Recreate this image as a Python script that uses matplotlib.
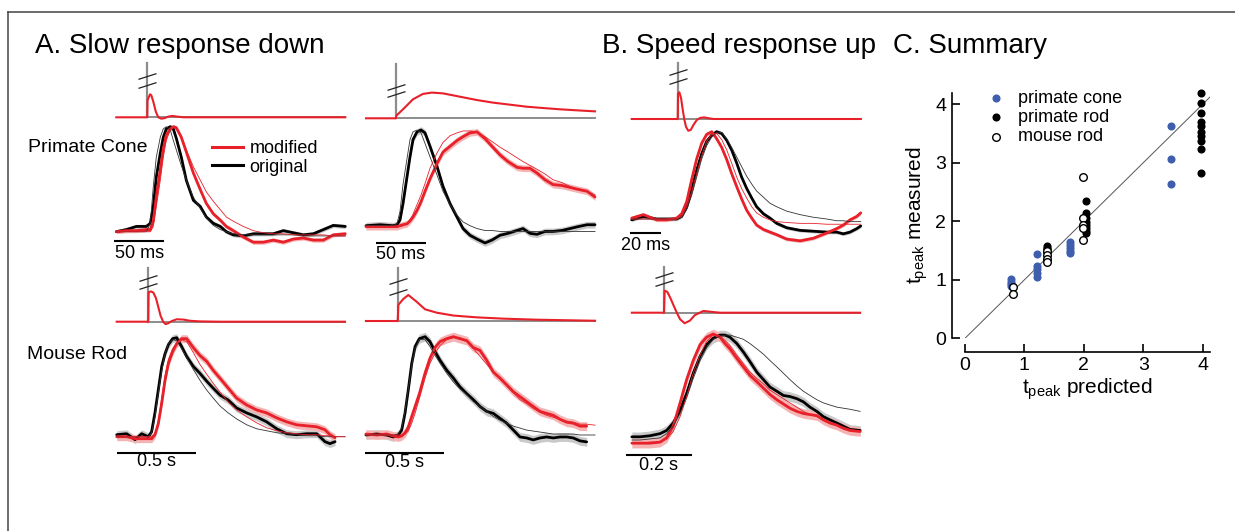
import matplotlib
matplotlib.use("Agg")
import matplotlib.pyplot as plt
from matplotlib.path import Path
from matplotlib.lines import Line2D

plt.rcParams['font.family'] = ['Liberation Sans', 'DejaVu Sans']

# ---------------- data: panel A, primate cone, column 1 (ms, normalised) -------------
coneA_t = [-31, -21, -11, -1, 3, 6, 9, 13, 16, 19, 23, 26, 29, 34, 39, 46, 53, 59, 66, 73,
           79, 86, 96, 106, 116, 126, 136, 146, 156, 166, 176, 186, 198]
coneA_orig_data = [0, 0.02, 0.05, 0.05, 0.08, 0.24, 0.52, 0.75, 0.90, 0.98, 1.0, 0.98, 0.89, 0.71,
                   0.49, 0.30, 0.24, 0.14, 0.08, 0.05, 0.0, -0.03, -0.04, -0.02, -0.02, -0.02, 0.01,
                   -0.01, -0.03, -0.02, 0.02, 0.06, 0.05]
coneA_mod_data = [0, 0.01, 0.01, 0.02, 0.02, 0.10, 0.33, 0.59, 0.79, 0.92, 0.98, 1.0, 0.99, 0.90,
                  0.76, 0.56, 0.40, 0.27, 0.17, 0.11, 0.05, 0.01, -0.05, -0.10, -0.10, -0.08, -0.10,
                  -0.07, -0.06, -0.08, -0.08, -0.03, -0.02]
coneA_orig_model = [0, 0, 0, 0, 0.08, 0.43, 0.71, 0.90, 0.98, 1.0, 0.97, 0.87, 0.78, 0.63, 0.49,
                    0.33, 0.22, 0.13, 0.06, 0.02, 0, -0.02, -0.03, -0.03, -0.03, -0.03, -0.03, -0.03,
                    -0.04, -0.04, -0.04, -0.04, -0.04]
coneA_mod_model = [0, 0, 0, 0, 0, 0.05, 0.24, 0.49, 0.71, 0.87, 0.97, 1.0, 0.99, 0.90, 0.78, 0.62,
                   0.49, 0.38, 0.29, 0.21, 0.14, 0.10, 0.05, 0.01, -0.01, -0.02, -0.02, -0.03, -0.03,
                   -0.03, -0.03, -0.04, -0.04]
coneA_filt_t = [-31, 0, 0.3, 2.7, 4.0, 6.0, 8.5, 11, 14, 17, 21, 25, 30, 36, 198]
coneA_filt = [0, 0, 0.75, 1.0, 0.96, 0.68, 0.25, 0, -0.06, -0.04, 0.03, 0.06, 0.03, 0, 0]

# ---------------- panel A, primate cone, column 2 -------------
coneB_t = [-30, -16, -3, 1, 4, 7, 11, 14, 17, 21, 25, 29, 34, 41, 47, 54, 61, 67, 74, 81, 89, 96,
           104, 112, 121, 127, 134, 141, 149, 157, 166, 174, 182, 191, 199]
coneB_orig_data = [0, 0.01, 0, 0.01, 0.06, 0.23, 0.51, 0.72, 0.90, 0.98, 1.0, 0.97, 0.83, 0.62, 0.41,
                   0.23, 0.09, -0.03, -0.10, -0.14, -0.18, -0.15, -0.10, -0.08, -0.05, -0.03, -0.08,
                   -0.09, -0.06, -0.06, -0.05, -0.03, -0.01, 0.01, 0.01]
coneB_mod_data = [-0.01, -0.01, -0.01, -0.01, 0, 0.01, 0.02, 0.05, 0.09, 0.16, 0.25, 0.36, 0.49, 0.65,
                  0.77, 0.83, 0.89, 0.93, 0.97, 0.98, 0.91, 0.83, 0.74, 0.67, 0.61, 0.60, 0.60, 0.55,
                  0.48, 0.43, 0.42, 0.40, 0.38, 0.36, 0.30]
coneB_orig_model = [0, 0, 0, 0.02, 0.15, 0.43, 0.70, 0.90, 0.98, 1.0, 0.97, 0.86, 0.72, 0.53, 0.36,
                    0.22, 0.11, 0.04, 0, -0.03, -0.05, -0.05, -0.06, -0.06, -0.06, -0.06, -0.06, -0.06,
                    -0.06, -0.06, -0.06, -0.06, -0.06, -0.06, -0.06]
coneB_mod_model = [-0.01, -0.01, -0.01, -0.01, -0.01, 0, 0.02, 0.06, 0.12, 0.22, 0.32, 0.44, 0.60,
                   0.76, 0.87, 0.94, 0.97, 0.99, 0.99, 0.98, 0.93, 0.88, 0.82, 0.77, 0.71, 0.67, 0.63,
                   0.59, 0.54, 0.48, 0.45, 0.41, 0.38, 0.36, 0.32]
coneB_filt_t = [-30, 0, 0.3, 7, 17, 27, 36, 47, 64, 81, 97, 114, 131, 147, 164, 181, 199]
coneB_filt = [0, 0, 0.10, 0.35, 0.74, 0.95, 1.0, 0.97, 0.84, 0.71, 0.61, 0.53, 0.45, 0.40, 0.35, 0.31, 0.27]

# ---------------- panel B, primate cone -------------
coneC_t = [-30.0, -22.4, -13.7, -7.2, -0.7, 2.6, 5.9, 9.1, 12.4, 15.7, 18.9, 22.2, 25.4, 28.7, 32.0,
           35.2, 38.5, 41.7, 45.0, 48.3, 51.5, 55.9, 60.2, 64.6, 71.1, 79.8, 88.5, 97.2, 103.7,
           108.0, 112.4, 116.8, 119.4]
coneC_orig_data = [-0.01, 0.03, 0, 0, 0, 0.03, 0.14, 0.33, 0.56, 0.75, 0.89, 0.96, 1.0, 0.98, 0.90,
                   0.79, 0.64, 0.48, 0.35, 0.24, 0.14, 0.06, 0.01, -0.05, -0.10, -0.13, -0.14, -0.15,
                   -0.15, -0.17, -0.15, -0.11, -0.08]
coneC_mod_data = [0.01, 0.05, -0.01, -0.01, 0.01, 0.06, 0.20, 0.45, 0.69, 0.87, 0.97, 1.0, 0.92, 0.82,
                  0.68, 0.52, 0.37, 0.23, 0.10, 0.01, -0.07, -0.12, -0.15, -0.18, -0.23, -0.25, -0.22,
                  -0.16, -0.11, -0.07, -0.01, 0.03, 0.07]
coneC_orig_model = [0, 0, 0, 0, 0, 0.02, 0.11, 0.27, 0.48, 0.69, 0.84, 0.94, 0.99, 0.99, 0.92, 0.82,
                    0.71, 0.60, 0.49, 0.40, 0.32, 0.25, 0.18, 0.14, 0.09, 0.05, 0.02, 0, -0.02, -0.02,
                    -0.03, -0.03, -0.03]
coneC_mod_model = [0, 0, 0, 0, 0, 0.03, 0.14, 0.31, 0.52, 0.73, 0.89, 0.97, 0.98, 0.91, 0.79, 0.64,
                   0.48, 0.35, 0.24, 0.14, 0.07, 0.02, -0.01, -0.03, -0.04, -0.05, -0.05, -0.06, -0.06,
                   -0.06, -0.06, -0.06, -0.06]
coneC_filt_t = [-30, 0, 0.2, 1.1, 2.2, 3.3, 4.3, 5.4, 6.9, 8.5, 10.2, 12.4, 14.6, 17.2, 20.0, 23.3, 119.4]
coneC_filt = [0, 0, 0.96, 1.0, 0.78, 0.34, -0.01, -0.29, -0.44, -0.41, -0.23, -0.04, 0.04, 0.06, 0.03, 0, 0]

# ---------------- panel A, mouse rod, column 1 (s) -------------
rodA_t = [-0.200, -0.137, -0.084, -0.042, 0, 0.021, 0.042, 0.063, 0.085, 0.106, 0.127, 0.154, 0.180,
          0.211, 0.243, 0.285, 0.327, 0.370, 0.411, 0.454, 0.506, 0.559, 0.623, 0.686, 0.749, 0.813,
          0.876, 0.939, 1.003, 1.066, 1.118, 1.150, 1.182, 1.245]
rodA_orig_data = [0.02, 0.03, -0.03, 0.03, 0, 0.05, 0.24, 0.47, 0.71, 0.84, 0.93, 0.99, 1.0, 0.91,
                  0.81, 0.71, 0.64, 0.56, 0.49, 0.42, 0.37, 0.29, 0.24, 0.20, 0.15, 0.08, 0.03, 0.02,
                  0.03, 0.03, -0.05, -0.07, -0.05]
rodA_mod_data = [0, 0, -0.02, -0.02, -0.02, -0.02, 0.02, 0.13, 0.34, 0.57, 0.74, 0.86, 0.94, 0.99,
                 0.99, 0.90, 0.82, 0.76, 0.67, 0.59, 0.49, 0.39, 0.32, 0.27, 0.24, 0.19, 0.15, 0.12,
                 0.11, 0.10, 0.07, 0.02, -0.01]
rodA_orig_model = [0, 0, 0, 0, 0, 0.04, 0.20, 0.44, 0.67, 0.84, 0.94, 0.98, 0.97, 0.89, 0.80, 0.68,
                   0.57, 0.47, 0.39, 0.31, 0.24, 0.18, 0.12, 0.08, 0.06, 0.04, 0.03, 0.02, 0.01, 0.01,
                   0, 0, 0, 0]
rodA_mod_model = [0, 0, 0, 0, 0, 0, 0.03, 0.15, 0.39, 0.62, 0.78, 0.89, 0.95, 0.98, 0.96, 0.85, 0.73,
                  0.63, 0.54, 0.45, 0.35, 0.27, 0.20, 0.14, 0.09, 0.06, 0.04, 0.03, 0.02, 0.02, 0.01,
                  0.01, 0, 0]
rodA_filt_t = [-0.2, 0, 0.002, 0.017, 0.032, 0.049, 0.063, 0.078, 0.095, 0.11, 0.127, 0.148, 0.18,
               0.222, 0.264, 0.327, 0.454, 1.245]
rodA_filt = [0, 0, 0.97, 1.0, 0.96, 0.77, 0.49, 0.19, -0.01, -0.08, -0.05, 0.02, 0.08, 0.07, 0.03,
             0.01, 0, 0]

# ---------------- panel A, mouse rod, column 2 -------------
rodB_t = [-0.201, -0.133, -0.070, -0.028, 0.004, 0.025, 0.046, 0.067, 0.089, 0.110, 0.137, 0.173,
          0.204, 0.236, 0.268, 0.310, 0.352, 0.394, 0.437, 0.478, 0.521, 0.563, 0.605, 0.647, 0.690,
          0.732, 0.774, 0.816, 0.858, 0.901, 0.943, 0.985, 1.027, 1.070, 1.111, 1.154, 1.196, 1.249]
rodB_orig_data = [0, 0.01, 0, -0.02, 0, 0.05, 0.22, 0.46, 0.73, 0.90, 0.98, 1.0, 0.95, 0.85, 0.76,
                  0.66, 0.58, 0.49, 0.42, 0.36, 0.29, 0.24, 0.22, 0.17, 0.12, 0.05, -0.02, -0.03,
                  -0.05, -0.03, -0.02, -0.03, -0.02, -0.02, -0.03, -0.06, -0.07]
rodB_mod_data = [0.01, 0, 0.01, -0.01, -0.02, -0.01, 0.02, 0.08, 0.19, 0.29, 0.42, 0.63, 0.78, 0.89,
                 0.95, 0.98, 1.0, 0.98, 0.96, 0.89, 0.86, 0.76, 0.64, 0.58, 0.51, 0.44, 0.39, 0.34,
                 0.29, 0.24, 0.22, 0.20, 0.16, 0.13, 0.12, 0.09, 0.09]
rodB_orig_model = [0, 0, 0, 0, 0.01, 0.07, 0.24, 0.47, 0.71, 0.88, 0.97, 0.97, 0.90, 0.81, 0.73,
                   0.63, 0.54, 0.47, 0.41, 0.34, 0.29, 0.24, 0.19, 0.15, 0.12, 0.09, 0.07, 0.05, 0.04,
                   0.03, 0.02, 0.01, 0.01, 0.01, 0.01, 0, 0, 0]
rodB_mod_model = [0, 0, 0, 0, 0, 0, 0.01, 0.04, 0.12, 0.22, 0.37, 0.58, 0.73, 0.83, 0.91, 0.97, 0.99,
                  0.99, 0.95, 0.88, 0.80, 0.72, 0.64, 0.57, 0.50, 0.43, 0.36, 0.32, 0.27, 0.23, 0.20,
                  0.18, 0.16, 0.14, 0.13, 0.11, 0.11, 0.10]
rodB_filt_t = [-0.201, 0, 0.004, 0.036, 0.067, 0.12, 0.173, 0.247, 0.352, 0.5, 0.669, 0.88, 1.249]
rodB_filt = [0, 0, 0.62, 0.85, 1.0, 0.74, 0.45, 0.32, 0.21, 0.14, 0.09, 0.05, 0.01]

# ---------------- panel B, mouse rod -------------
rodC_t = [-0.098, -0.073, -0.043, -0.012, 0.008, 0.028, 0.049, 0.069, 0.089, 0.110, 0.130, 0.150,
          0.171, 0.186, 0.201, 0.222, 0.242, 0.262, 0.283, 0.303, 0.323, 0.344, 0.364, 0.384, 0.405,
          0.425, 0.445, 0.466, 0.486, 0.506, 0.527, 0.547, 0.567, 0.598]
rodC_orig_data = [0.03, 0.03, 0.04, 0.06, 0.09, 0.16, 0.28, 0.44, 0.63, 0.79, 0.90, 0.96, 0.99, 0.99,
                  0.97, 0.91, 0.83, 0.74, 0.64, 0.57, 0.50, 0.46, 0.42, 0.41, 0.39, 0.36, 0.31, 0.27,
                  0.22, 0.19, 0.16, 0.13, 0.10, 0.09]
rodC_mod_data = [-0.03, -0.03, -0.03, -0.02, 0.02, 0.13, 0.35, 0.57, 0.75, 0.90, 0.97, 1.0, 0.97, 0.91,
                 0.86, 0.77, 0.69, 0.61, 0.55, 0.49, 0.43, 0.38, 0.34, 0.30, 0.27, 0.25, 0.24, 0.23,
                 0.19, 0.16, 0.14, 0.11, 0.09, 0.08]
rodC_orig_model = [0, 0, 0.01, 0.02, 0.06, 0.13, 0.25, 0.40, 0.58, 0.75, 0.87, 0.95, 0.98, 0.99, 0.99,
                   0.97, 0.95, 0.91, 0.86, 0.81, 0.75, 0.69, 0.63, 0.57, 0.51, 0.46, 0.42, 0.38, 0.35,
                   0.33, 0.31, 0.30, 0.29, 0.27]
rodC_mod_model = [-0.03, -0.03, -0.02, -0.02, 0.01, 0.08, 0.22, 0.41, 0.63, 0.80, 0.93, 0.99, 0.98,
                  0.94, 0.89, 0.80, 0.72, 0.64, 0.58, 0.53, 0.47, 0.43, 0.39, 0.35, 0.31, 0.27, 0.24,
                  0.22, 0.19, 0.17, 0.14, 0.12, 0.10, 0.08]
rodC_filt_t = [-0.098, 0, 0.002, 0.010, 0.020, 0.031, 0.039, 0.049, 0.063, 0.079, 0.094, 0.120, 0.150,
               0.171, 0.598]
rodC_filt = [0, 0, 1.0, 0.95, 0.65, 0.27, 0, -0.30, -0.48, -0.36, -0.11, 0.08, 0.03, 0, 0]

# ---------------- panel C summary -------------
cone_pred = [0.78, 0.78, 0.78, 0.78, 1.21, 1.21, 1.21, 1.21, 1.21, 1.77, 1.77, 1.77, 1.77, 1.77,
             3.46, 3.46, 3.46]
cone_meas = [1.02, 0.97, 0.93, 0.90, 1.44, 1.24, 1.18, 1.12, 1.05, 1.64, 1.60, 1.55, 1.50, 1.46,
             3.63, 3.07, 2.63]
prod_pred = [1.38, 1.38, 1.38, 1.38, 2.03, 2.03, 2.03, 2.03, 2.03, 2.03, 2.03, 2.03,
             3.98, 3.98, 3.98, 3.98, 3.98, 3.98, 3.98, 3.98, 3.98, 3.98]
prod_meas = [1.58, 1.55, 1.52, 1.48, 2.35, 2.15, 2.05, 1.98, 1.93, 1.88, 1.84, 1.80,
             4.20, 4.03, 3.85, 3.69, 3.63, 3.52, 3.45, 3.37, 3.23, 2.82]
mrod_pred = [0.80, 0.80, 1.38, 1.38, 1.38, 1.38, 1.98, 1.98, 1.98, 1.98, 1.98]
mrod_meas = [0.88, 0.75, 1.50, 1.42, 1.36, 1.30, 2.75, 2.06, 1.94, 1.88, 1.68]
unity_line = [0, 4.13]

# ---------------- styling / layout -------------
W, H = 1235, 531
RED = '#e8202a'
BLUE = '#3f5fae'
GRAY = '#8c8c8c'

fig = plt.figure(figsize=(W / 100, H / 100), dpi=100)


def px_axes(x0, x1, ytop, ybot):
    ax = fig.add_axes([x0 / W, 1 - ybot / H, (x1 - x0) / W, (ybot - ytop) / H])
    return ax


slash = Path([(-1.0, -0.32), (1.0, 0.32)], [Path.MOVETO, Path.LINETO])

LAYOUT = {
    'coneA': dict(stim=147.3, ppu=1.0, xlim=(-34, 199), fbase=117.3, famp=23.0, fylim=(-0.3, 2.36),
                  marks=(1.42, 1.78), rbase=231.7, ramp=105.0, rylim=(-0.2, 1.03), bar=(-33, -0.089)),
    'coneB': dict(stim=396.0, ppu=1.0, xlim=(-31, 200), fbase=118.3, famp=25.7, fylim=(-0.3, 2.11),
                  marks=(0.93, 1.22), rbase=225.7, ramp=95.7, rylim=(-0.25, 1.03), bar=(-20, -0.184)),
    'coneC': dict(stim=677.7, ppu=1.533, xlim=(-32, 120), fbase=119.0, famp=26.7, fylim=(-0.6, 2.09),
                  marks=(1.42, 1.75), rbase=219.0, ramp=87.3, rylim=(-0.3, 1.03), bar=(-31.1, -0.164)),
    'rodA': dict(stim=148.3, ppu=158.0, xlim=(-0.21, 1.25), fbase=321.7, famp=30.3, fylim=(-0.2, 1.77),
                 marks=(1.17, 1.45), rbase=436.7, ramp=99.0, rylim=(-0.2, 1.03), bar=(-0.2, -0.162)),
    'rodB': dict(stim=397.7, ppu=158.0, xlim=(-0.21, 1.25), fbase=321.0, famp=26.0, fylim=(-0.2, 2.03),
                 marks=(1.12, 1.52), rbase=435.0, ramp=98.3, rylim=(-0.2, 1.03), bar=(-0.206, -0.186)),
    'rodC': dict(stim=664.0, ppu=328.0, xlim=(-0.12, 0.6), fbase=312.7, famp=22.0, fylim=(-0.6, 2.09),
                 marks=(1.35, 1.72), rbase=440.0, ramp=106.0, rylim=(-0.2, 1.03), bar=(-0.116, -0.142)),
}
BAND = {'coneA': 0.02, 'coneB': 0.035, 'coneC': 0.02, 'rodA': 0.04, 'rodB': 0.045, 'rodC': 0.045}


def panel(key, filt_t, filt, t, orig_data, mod_data, orig_model, mod_model, bar_len, bar_label,
          label_gap):
    L = LAYOUT[key]
    x0 = L['stim'] + L['xlim'][0] * L['ppu']
    x1 = L['stim'] + L['xlim'][1] * L['ppu']
    # filter axes
    fa = px_axes(x0, x1, L['fbase'] - L['fylim'][1] * L['famp'], L['fbase'] - L['fylim'][0] * L['famp'])
    fa.set_xlim(*L['xlim'])
    fa.set_ylim(*L['fylim'])
    fa.set_axis_off()
    fa.plot([0, filt_t[-1]], [0, 0], color=GRAY, lw=1.4, zorder=1, clip_on=False)
    fa.plot([0, 0], [0, L['fylim'][1]], color=GRAY, lw=1.6, zorder=1, clip_on=False)
    fa.plot(filt_t, filt, color=RED, lw=1.5, zorder=3, clip_on=False, solid_joinstyle='round')
    fa.plot([0, 0], list(L['marks']), ls='none', marker=slash, ms=13, mew=0.9, mec='#222222',
            zorder=4, clip_on=False)
    # response axes
    ra = px_axes(x0, x1, L['rbase'] - L['rylim'][1] * L['ramp'], L['rbase'] - L['rylim'][0] * L['ramp'])
    ra.set_xlim(*L['xlim'])
    ra.set_ylim(*L['rylim'])
    ra.set_axis_off()
    b = BAND[key]
    td = t[:len(orig_data)]
    tm = t[:len(mod_data)]
    ra.fill_between(td, [v - b for v in orig_data], [v + b for v in orig_data], color='#c9c9c9',
                    lw=0, zorder=1, clip_on=False)
    ra.fill_between(tm, [v - b for v in mod_data], [v + b for v in mod_data], color='#f5b3b3',
                    lw=0, zorder=1, clip_on=False)
    lo, = ra.plot(td, orig_data, color='black', lw=2.0, zorder=3, clip_on=False,
                  solid_joinstyle='round', solid_capstyle='round')
    lm, = ra.plot(tm, mod_data, color=RED, lw=2.0, zorder=3, clip_on=False,
                  solid_joinstyle='round', solid_capstyle='round')
    ra.plot(t[:len(orig_model)], orig_model, color='#333333', lw=0.6, zorder=4, clip_on=False)
    ra.plot(t[:len(mod_model)], mod_model, color=RED, lw=0.6, zorder=4, clip_on=False)
    bx, by = L['bar']
    ra.plot([bx, bx + bar_len], [by, by], color='black', lw=1.5, clip_on=False, solid_capstyle='butt')
    ra.annotate(bar_label, xy=(bx + bar_len / 2, by), xytext=(0, -label_gap), textcoords='offset points',
                ha='center', va='top', fontsize=13, annotation_clip=False)
    return ra, lo, lm


raA, lo, lm = panel('coneA', coneA_filt_t, coneA_filt, coneA_t, coneA_orig_data, coneA_mod_data,
                    coneA_orig_model, coneA_mod_model, 50, '50 ms', 2.5)
panel('coneB', coneB_filt_t, coneB_filt, coneB_t, coneB_orig_data, coneB_mod_data,
      coneB_orig_model, coneB_mod_model, 50, '50 ms', 2.0)
panel('coneC', coneC_filt_t, coneC_filt, coneC_t, coneC_orig_data, coneC_mod_data,
      coneC_orig_model, coneC_mod_model, 20, '20 ms', 3.0)
panel('rodA', rodA_filt_t, rodA_filt, rodA_t, rodA_orig_data, rodA_mod_data,
      rodA_orig_model, rodA_mod_model, 0.5, '0.5 s', 0.5)
panel('rodB', rodB_filt_t, rodB_filt, rodB_t, rodB_orig_data, rodB_mod_data,
      rodB_orig_model, rodB_mod_model, 0.5, '0.5 s', 0.5)
panel('rodC', rodC_filt_t, rodC_filt, rodC_t, rodC_orig_data, rodC_mod_data,
      rodC_orig_model, rodC_mod_model, 0.2, '0.2 s', 1.5)

raA.legend([Line2D([], [], color=RED, lw=2.2), Line2D([], [], color='black', lw=2.2)],
           ['modified', 'original'], loc='upper left', bbox_to_anchor=(211.7 / W, 1 - 140 / H),
           bbox_transform=fig.transFigure, frameon=False, fontsize=13, handlelength=1.75,
           handletextpad=0.35, labelspacing=0.1, borderpad=0, borderaxespad=0)

# ---------------- panel C -------------
cx0, cx1 = 965.0, 965.0 + 4.13 * 59.4
cyb, cyt = 338.3, 338.3 - 4.2 * 58.5
ac = px_axes(cx0, cx1, cyt, cyb)
ac.set_xlim(0, 4.13)
ac.set_ylim(0, 4.2)
ac.plot(unity_line, unity_line, color='#555555', lw=0.7, zorder=1)
ac.scatter(cone_pred, cone_meas, s=34, color=BLUE, lw=0, zorder=3, clip_on=False, label='primate cone')
ac.scatter(prod_pred, prod_meas, s=34, color='black', lw=0, zorder=3, clip_on=False, label='primate rod')
ac.scatter(mrod_pred, mrod_meas, s=30, facecolor='white', edgecolor='black', lw=1.0, zorder=4,
           clip_on=False, label='mouse rod')
for side in ('top', 'right'):
    ac.spines[side].set_visible(False)
for side in ('left', 'bottom'):
    ac.spines[side].set_position(('outward', 9.6))
    ac.spines[side].set_linewidth(1.2)
ac.set_xticks([0, 1, 2, 3, 4])
ac.set_yticks([0, 1, 2, 3, 4])
ac.tick_params(direction='in', length=6, width=1.2, labelsize=14, pad=4)
ac.set_xlabel(r'$\mathregular{t_{peak}}$ predicted', fontsize=15, labelpad=2)
ac.set_ylabel(r'$\mathregular{t_{peak}}$ measured', fontsize=15, labelpad=4)
ac.patch.set_visible(False)
ac.legend(loc='upper left', bbox_to_anchor=(987 / W, 1 - 90 / H), bbox_transform=fig.transFigure,
          frameon=False, fontsize=13, handlelength=1.0, handletextpad=0.7, labelspacing=0.12,
          borderpad=0, borderaxespad=0, scatterpoints=1)

# ---------------- titles and labels -------------
fig.text(35 / W, 1 - 53.3 / H, 'A. Slow response down', fontsize=20, va='baseline', ha='left')
fig.text(601.7 / W, 1 - 53.3 / H, 'B. Speed response up', fontsize=20, va='baseline', ha='left')
fig.text(893 / W, 1 - 53.3 / H, 'C. Summary', fontsize=20, va='baseline', ha='left')
fig.text(28.3 / W, 1 - 152.3 / H, 'Primate Cone', fontsize=14, va='baseline', ha='left')
fig.text(27.3 / W, 1 - 359 / H, 'Mouse Rod', fontsize=14, va='baseline', ha='left')

# frame around the figure
fig.add_artist(Line2D([8 / W, 1], [1 - 12 / H, 1 - 12 / H], color='#444444', lw=1.1,
                      transform=fig.transFigure))
fig.add_artist(Line2D([8 / W, 8 / W], [0, 1 - 12 / H], color='#444444', lw=1.1,
                      transform=fig.transFigure))

fig.savefig('out.png', dpi=100)
